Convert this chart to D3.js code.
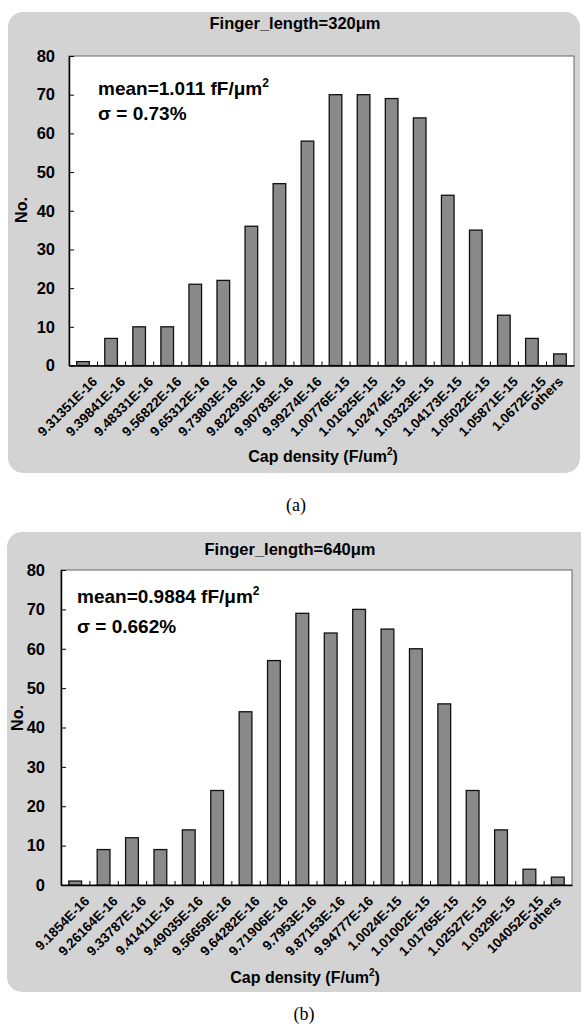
<!DOCTYPE html>
<html lang="en">
<head>
<meta charset="UTF-8">
<title>Cap density histograms</title>
<script src="https://d3js.org/d3.v7.min.js"></script>
<style>
    body { margin: 0; background: #fff; }
    svg { display: block; font-family: 'Liberation Sans', Arial, sans-serif; }
    .panel-bg { fill: #d3d3d3; }
    .plot-bg { fill: #fff; stroke: #666; stroke-width: 1; }
    .bar { fill: #8a8a8a; stroke: #111; stroke-width: 1.3; }
    .axis path, .axis line { stroke: #000; }
    .axis path { stroke-width: 1.5; }
    .axis text { fill: #000; font-weight: bold; font-family: 'Liberation Sans', Arial, sans-serif; }
    .ylab text { font-size: 16.5px; }
    .xlab text { font-size: 13.5px; }
    .title { font-size: 16.5px; font-weight: bold; }
    .note { font-size: 19px; font-weight: bold; }
    .axis-title { font-size: 16px; font-weight: bold; }
    .caption { font-family: 'Liberation Serif', 'Times New Roman', serif; font-size: 18px; }
</style>
</head>
<body>
<svg id="chart" width="581" height="1032"></svg>
<script>
// --- data ---
const yTicks = [0, 10, 20, 30, 40, 50, 60, 70, 80];

const labelsA = ["9.31351E-16", "9.39841E-16", "9.48331E-16", "9.56822E-16", "9.65312E-16",
    "9.73803E-16", "9.82293E-16", "9.90783E-16", "9.99274E-16", "1.00776E-15", "1.01625E-15",
    "1.02474E-15", "1.03323E-15", "1.04173E-15", "1.05022E-15", "1.05871E-15", "1.0672E-15", "others"];
const countsA = [1, 7, 10, 10, 21, 22, 36, 47, 58, 70, 70, 69, 64, 44, 35, 13, 7, 3];

const labelsB = ["9.1854E-16", "9.26164E-16", "9.33787E-16", "9.41411E-16", "9.49035E-16",
    "9.56659E-16", "9.64282E-16", "9.71906E-16", "9.7953E-16", "9.87153E-16", "9.94777E-16",
    "1.0024E-15", "1.01002E-15", "1.01765E-15", "1.02527E-15", "1.0329E-15", "104052E-15", "others"];
const countsB = [1, 9, 12, 9, 14, 24, 44, 57, 69, 64, 70, 65, 60, 46, 24, 14, 4, 2];

const svg = d3.select("#chart");

// one panel = gray rounded box + Excel style column chart
function drawPanel(p) {
    const g = svg.append("g");

    g.append("rect").attr("class", "panel-bg")
        .attr("x", p.box[0]).attr("y", p.box[1])
        .attr("width", p.box[2]).attr("height", p.box[3])
        .attr("rx", 15).attr("ry", 15);

    const x = d3.scaleBand()
        .domain(p.labels)
        .range([p.left, p.right])
        .paddingInner(0.55)
        .paddingOuter(0.275);

    const y = d3.scaleLinear()
        .domain([0, 80])
        .range([p.bottom, p.top]);

    // boundary ticks between categories
    const xi = d3.scaleLinear().domain([0, p.labels.length]).range([p.left, p.right]);

    g.append("rect").attr("class", "plot-bg")
        .attr("x", p.left).attr("y", p.top)
        .attr("width", p.right - p.left).attr("height", p.bottom - p.top);

    g.append("g")
        .selectAll("rect")
        .data(p.counts)
        .join("rect")
        .attr("class", "bar")
        .attr("x", (d, i) => x(p.labels[i]))
        .attr("y", d => y(d))
        .attr("width", x.bandwidth())
        .attr("height", d => y(0) - y(d));

    // y axis, ticks pointing inside
    g.append("g")
        .attr("class", "axis ylab")
        .attr("transform", `translate(${p.left},0)`)
        .call(d3.axisLeft(y).tickValues(yTicks).tickSize(-5).tickSizeOuter(0).tickPadding(p.yPad));

    // category ticks at bin boundaries
    g.append("g")
        .attr("class", "axis")
        .attr("transform", `translate(0,${p.bottom})`)
        .call(d3.axisBottom(xi).tickValues(d3.range(1, p.labels.length)).tickSize(-4).tickSizeOuter(0).tickFormat(""));

    // rotated category labels
    const half = x.bandwidth() / 2;
    const xl = g.append("g")
        .attr("class", "axis xlab")
        .attr("transform", `translate(0,${p.bottom})`)
        .call(d3.axisBottom(x).tickSize(0).tickSizeOuter(0));
    xl.select(".domain").remove();
    xl.selectAll("text")
        .attr("x", 0).attr("y", 0).attr("dy", 0)
        .attr("text-anchor", "end")
        .attr("transform", d => {
            const cx = x(d) + half;
            const ax = Math.min(cx + 15, p.right - 10) - cx;
            return `translate(${ax},17) rotate(-45)`;
        });

    g.append("text").attr("class", "title")
        .attr("x", p.titleX).attr("y", p.titleY)
        .attr("text-anchor", "middle")
        .text(p.title);

    const mean = g.append("text").attr("class", "note")
        .attr("x", p.noteX).attr("y", p.meanY);
    mean.append("tspan").text(p.mean + " fF/μm");
    mean.append("tspan").attr("font-size", 12).attr("dy", -8).text("2");

    g.append("text").attr("class", "note")
        .attr("x", p.noteX).attr("y", p.sigmaY)
        .text(p.sigma);

    g.append("text").attr("class", "axis-title")
        .attr("transform", `translate(${p.noX},${p.noY}) rotate(-90)`)
        .attr("text-anchor", "middle")
        .attr("dy", "0.35em")
        .text("No.");

    const xt = g.append("text").attr("class", "axis-title")
        .attr("x", p.capX).attr("y", p.capY)
        .attr("text-anchor", "middle");
    xt.append("tspan").text("Cap density (F/um");
    xt.append("tspan").attr("font-size", 10).attr("dy", -7).text("2");
    xt.append("tspan").attr("dy", 7).text(")");

    g.append("text").attr("class", "caption")
        .attr("x", p.capLabelX).attr("y", p.capLabelY)
        .attr("text-anchor", "middle")
        .text(p.caption);
}

drawPanel({
    labels: labelsA, counts: countsA,
    box: [8, 12, 572, 461],
    left: 69, right: 574, top: 56, bottom: 365.5, yPad: 14,
    title: "Finger_length=320μm", titleX: 295, titleY: 29,
    mean: "mean=1.011", sigma: "σ = 0.73%", noteX: 98, meanY: 95, sigmaY: 120,
    noX: 21, noY: 210,
    capX: 323, capY: 462,
    caption: "(a)", capLabelX: 296, capLabelY: 511
});

drawPanel({
    labels: labelsB, counts: countsB,
    box: [7, 532, 590, 460],
    left: 61, right: 572, top: 570, bottom: 885, yPad: 16,
    title: "Finger_length=640μm", titleX: 290, titleY: 555,
    mean: "mean=0.9884", sigma: "σ = 0.662%", noteX: 77, meanY: 603, sigmaY: 633,
    noX: 17, noY: 718,
    capX: 305, capY: 983,
    caption: "(b)", capLabelX: 304, capLabelY: 1020
});
</script>
</body>
</html>
